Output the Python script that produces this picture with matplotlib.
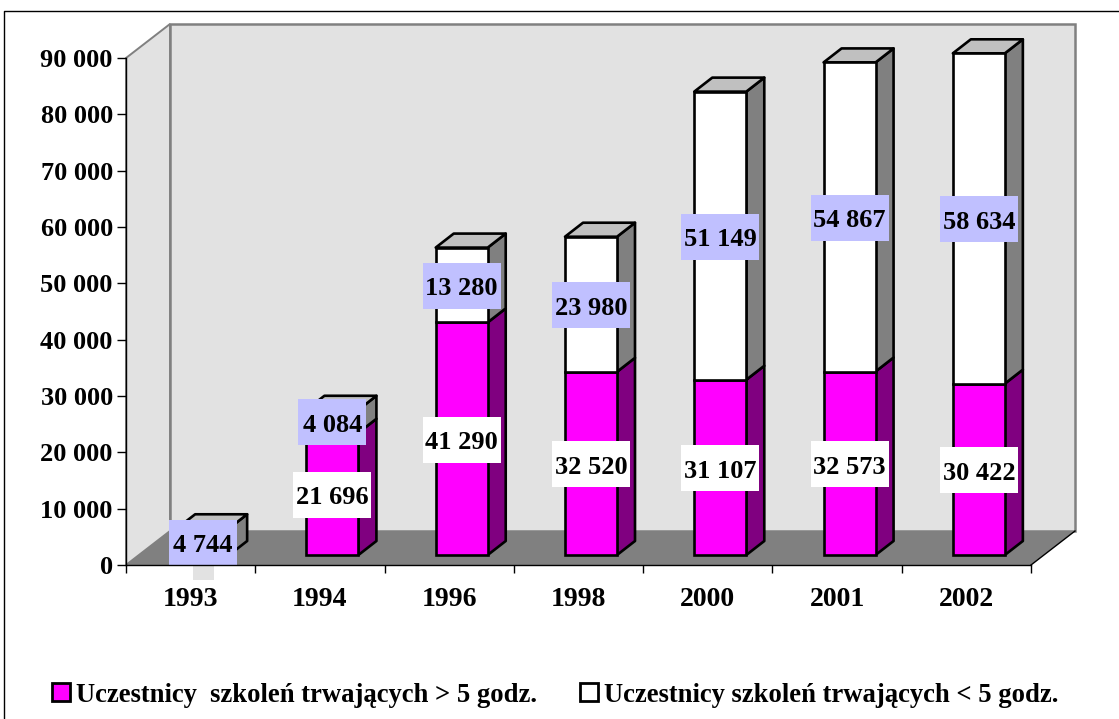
import matplotlib
matplotlib.use("Agg")
import matplotlib.pyplot as plt
from matplotlib.lines import Line2D
from matplotlib.patches import Patch, Polygon, Rectangle

years = ["1993", "1994", "1996", "1998", "2000", "2001", "2002"]
long_courses = [0, 21696, 41290, 32520, 31107, 32573, 30422]
short_courses = [4744, 4084, 13280, 23980, 51149, 54867, 58634]
long_label = "Uczestnicy  szkoleń trwających > 5 godz."
short_label = "Uczestnicy szkoleń trwających < 5 godz."

W, H = 1119, 719
WALL = "#E2E2E2"
GREY = "#808080"
MAGENTA = "#FF00FF"
PURPLE = "#800080"
LIGHT = "#C0C0C0"
BLUE = "#C0C0FF"

plt.rcParams["font.family"] = ["Liberation Serif", "DejaVu Serif"]
plt.rcParams["font.weight"] = "bold"

fig = plt.figure(figsize=(W / 100, H / 100), dpi=100)
# front plane of the 3d box: x 126..1031, y 565..58 in pixels
ax = fig.add_axes([126 / W, 1 - 565 / H, (1031 - 126) / W, (565 - 58) / H])
ax.set_xlim(-0.5, 6.5)
ax.set_ylim(0, 90000)
ax.patch.set_visible(False)

ux = 7 / (1031 - 126)      # one pixel in x data units
uy = 90000 / (565 - 58)    # one pixel in y data units


def px(x, y, dx, dy):
    return (x + dx * ux, y + dy * uy)


# walls and floor
x0, x1 = -0.5, 6.5
ymax = 90000
wx, wy = 44, 34
ax.add_patch(Polygon([px(x0, 0, wx, wy), px(x0, ymax, wx, wy), px(x1, ymax, wx, wy), px(x1, 0, wx, wy)],
                     fc=WALL, ec=GREY, lw=1.8, clip_on=False, zorder=1))
ax.add_patch(Polygon([px(x0, 0, 0, 0), px(x0, ymax, 0, 0), px(x0, ymax, wx, wy), px(x0, 0, wx, wy)],
                     fc=WALL, ec=GREY, lw=1.4, clip_on=False, zorder=1))
ax.add_patch(Polygon([px(x0, 0, 0, 0), px(x1, 0, 0, 0), px(x1, 0, wx, wy), px(x0, 0, wx, wy)],
                     fc=GREY, ec="none", clip_on=False, zorder=2))
ax.plot([x1, x1 + wx * ux], [0, wy * uy], color="black", lw=1, clip_on=False, zorder=2)

# bars
bar_w = 52 * ux
off_x = 12.5 * ux
off_y = 10 * uy
side_x, side_y = 18, 14
lw = 1.9

for i in range(len(years)):
    xl = i + off_x - bar_w / 2
    xr = xl + bar_w
    low = long_courses[i] + off_y
    high = low + short_courses[i]
    if long_courses[i] > 0:
        ax.add_patch(Polygon([(xr, off_y), (xr, low), px(xr, low, side_x, side_y), px(xr, off_y, side_x, side_y)],
                             fc=PURPLE, ec="black", lw=lw, joinstyle="round", clip_on=False, zorder=3))
    ax.add_patch(Polygon([(xr, low), (xr, high), px(xr, high, side_x, side_y), px(xr, low, side_x, side_y)],
                         fc=GREY, ec="black", lw=lw, joinstyle="round", clip_on=False, zorder=3))
    ax.add_patch(Polygon([(xl, high), (xr, high), px(xr, high, side_x, side_y), px(xl, high, side_x, side_y)],
                         fc=LIGHT, ec="black", lw=lw, joinstyle="round", clip_on=False, zorder=3))

xs = [i + off_x for i in range(len(years))]
ax.bar(xs, long_courses, bar_w, bottom=off_y, color=MAGENTA, edgecolor="black", lw=lw, zorder=4, clip_on=False)
bottoms = [v + off_y for v in long_courses]
ax.bar(xs, short_courses, bar_w, bottom=bottoms, color="white", edgecolor="black", lw=lw, zorder=4, clip_on=False)


def fmt(v):
    return f"{v:,}".replace(",", " ")


def label(x, y, v, color):
    s = fmt(v)
    bw = (68 if len(s) == 5 else 78) * ux
    bh = 46 * uy
    y = y - 1 * uy
    ax.add_patch(Rectangle((x - bw / 2, y - bh / 2), bw, bh, fc=color, ec="none", clip_on=False, zorder=5))
    ax.text(x, y - 3 * uy, s, ha="center", va="center", fontsize=19, fontweight="bold", color="black", zorder=6)


for i in range(len(years)):
    if long_courses[i] > 0:
        label(xs[i], off_y + long_courses[i] / 2, long_courses[i], "white")
    label(xs[i], bottoms[i] + short_courses[i] / 2, short_courses[i], BLUE)

# small patch left under the 1993 label
ax.add_patch(Rectangle((xs[0] - 10.5 * ux, -15 * uy), 21 * ux, 15 * uy, fc=WALL, ec="none", clip_on=False, zorder=5))

# axes
for s in ["top", "right"]:
    ax.spines[s].set_visible(False)
for s in ["left", "bottom"]:
    ax.spines[s].set_linewidth(1.0)
    ax.spines[s].set_zorder(7)
ax.set_yticks(range(0, 90001, 10000))
ax.set_yticklabels([fmt(v) for v in range(0, 90001, 10000)], fontsize=19, fontweight="bold")
ax.set_xticks(range(len(years)))
ax.set_xticklabels(years, fontsize=20, fontweight="bold")
ax.set_xticks([i - 0.5 for i in range(len(years) + 1)], minor=True)
ax.tick_params(axis="x", which="major", length=0, pad=15.5)
ax.tick_params(axis="x", which="minor", length=6, width=1)
ax.tick_params(axis="y", length=6.5, width=1, pad=3)

handles = [Patch(fc=MAGENTA, ec="black", lw=2), Patch(fc="white", ec="black", lw=2)]
fig.legend(handles, [long_label, short_label], ncol=2, frameon=False, fontsize=19.2,
           loc="center left", bbox_to_anchor=(52 / W, 1 - 695 / H), handlelength=0.68, handleheight=0.68,
           handletextpad=0.23, columnspacing=1.6, borderpad=0, borderaxespad=0)

# outer frame of the pasted picture
fig.add_artist(Line2D([3.5 / W, 3.5 / W, 1], [0, 1 - 10.5 / H, 1 - 10.5 / H], color="black", lw=1))

fig.savefig("out.png", dpi=100)
